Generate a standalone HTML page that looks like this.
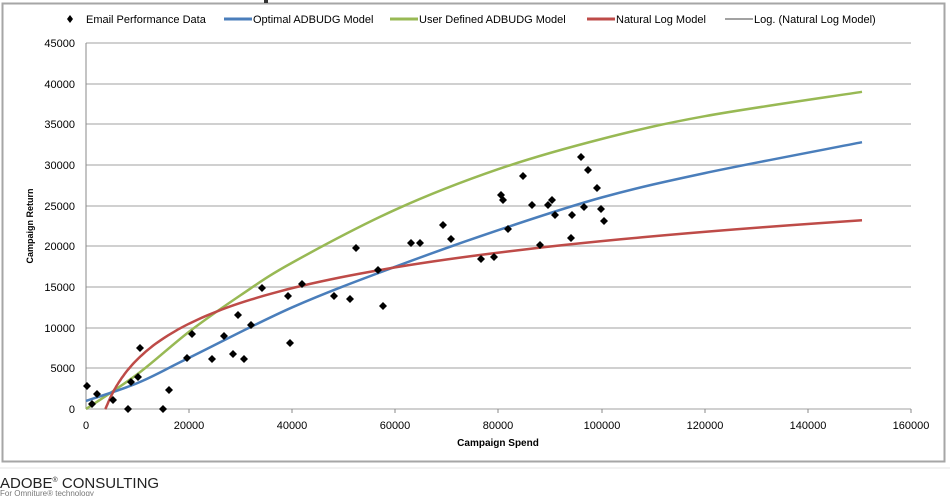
<!DOCTYPE html>
<html><head><style>
body{margin:0;background:#fff;width:950px;height:496px;overflow:hidden;font-family:"Liberation Sans",sans-serif}
</style></head><body>
<svg width="950" height="496" xmlns="http://www.w3.org/2000/svg" font-family="Liberation Sans, sans-serif">
<rect x="0" y="0" width="950" height="496" fill="#fff"/>
<rect x="2.5" y="3.5" width="942" height="458" fill="#fff" stroke="#a6a6a6" stroke-width="2"/>
<line x1="0" y1="468" x2="950" y2="468" stroke="#e6e6e6"/>
<rect x="264" y="0" width="4" height="3" fill="#333"/>
<g stroke="#c0c0c0" stroke-width="1.5">
<line x1="86" y1="43" x2="911" y2="43"/><line x1="86" y1="84" x2="911" y2="84"/><line x1="86" y1="124" x2="911" y2="124"/><line x1="86" y1="165" x2="911" y2="165"/><line x1="86" y1="206" x2="911" y2="206"/><line x1="86" y1="246" x2="911" y2="246"/><line x1="86" y1="287" x2="911" y2="287"/><line x1="86" y1="328" x2="911" y2="328"/><line x1="86" y1="368" x2="911" y2="368"/><line x1="86" y1="409" x2="911" y2="409"/>
</g>
<line x1="86" y1="43" x2="86" y2="409" stroke="#888"/>
<g stroke="#888"><line x1="189" y1="409" x2="189" y2="413"/><line x1="292" y1="409" x2="292" y2="413"/><line x1="395" y1="409" x2="395" y2="413"/><line x1="498" y1="409" x2="498" y2="413"/><line x1="602" y1="409" x2="602" y2="413"/><line x1="705" y1="409" x2="705" y2="413"/><line x1="808" y1="409" x2="808" y2="413"/><line x1="911" y1="409" x2="911" y2="413"/></g>
<g font-size="11" fill="#000" text-anchor="end">
<text x="75" y="47">45000</text><text x="75" y="88">40000</text><text x="75" y="128">35000</text><text x="75" y="169">30000</text><text x="75" y="210">25000</text><text x="75" y="250">20000</text><text x="75" y="291">15000</text><text x="75" y="332">10000</text><text x="75" y="372">5000</text><text x="75" y="413">0</text>
</g>
<g font-size="11" fill="#000" text-anchor="middle">
<text x="86" y="429">0</text><text x="189" y="429">20000</text><text x="292" y="429">40000</text><text x="395" y="429">60000</text><text x="498" y="429">80000</text><text x="602" y="429">100000</text><text x="705" y="429">120000</text><text x="808" y="429">140000</text><text x="911" y="429">160000</text>
</g>
<text x="498" y="446" font-size="10" font-weight="bold" text-anchor="middle">Campaign Spend</text>
<text transform="translate(33,226) rotate(-90)" font-size="9" font-weight="bold" text-anchor="middle">Campaign Return</text>
<g font-size="11" fill="#000">
<path d="M70 15 L73 19 L70 23 L67 19Z" fill="#000"/>
<text x="86" y="23">Email Performance Data</text>
<line x1="224" y1="19" x2="252" y2="19" stroke="#4a7ebb" stroke-width="3"/><text x="253" y="23">Optimal ADBUDG Model</text>
<line x1="390" y1="19" x2="418" y2="19" stroke="#98b954" stroke-width="3"/><text x="419" y="23">User Defined ADBUDG Model</text>
<line x1="587" y1="19" x2="615" y2="19" stroke="#be4b48" stroke-width="3"/><text x="616" y="23">Natural Log Model</text>
<line x1="725" y1="19" x2="753" y2="19" stroke="#444" stroke-width="1"/><text x="754" y="23">Log. (Natural Log Model)</text>
</g>
<g id="curves" fill="none" stroke-width="2.5"></g>
<g id="pts" fill="#000"></g>
<text x="0" y="488" font-size="15" fill="#222">ADOBE<tspan font-size="7" dy="-6">®</tspan><tspan dy="6"> CONSULTING</tspan></text>
<text x="0" y="496" font-size="8" fill="#777">For Omniture® technology</text>
</svg>
<script>
var X=function(v){return 86+v*825/160000},Y=function(v){return 409-v*366/45000};
function cr(p){var s="M"+X(p[0][0]).toFixed(1)+" "+Y(p[0][1]).toFixed(1);var q=p.map(function(a){return[X(a[0]),Y(a[1])]});
for(var i=0;i<q.length-1;i++){var p0=q[i-1]||q[i],p1=q[i],p2=q[i+1],p3=q[i+2]||q[i+1];
s+=" C"+(p1[0]+(p2[0]-p0[0])/6).toFixed(1)+" "+(p1[1]+(p2[1]-p0[1])/6).toFixed(1)+" "+(p2[0]-(p3[0]-p1[0])/6).toFixed(1)+" "+(p2[1]-(p3[1]-p1[1])/6).toFixed(1)+" "+p2[0].toFixed(1)+" "+p2[1].toFixed(1);}return s;}
var g=document.getElementById("curves"),ns="http://www.w3.org/2000/svg";
function add(d,c){var e=document.createElementNS(ns,"path");e.setAttribute("d",d);e.setAttribute("stroke",c);g.appendChild(e);}
add(cr([[0,0],[10000,4300],[20000,9500],[30000,14000],[40000,18000],[60000,24500],[80000,29500],[100000,33200],[120000,36000],[150500,39000]]),"#98b954");
add(cr([[0,1000],[10000,3200],[20000,6300],[40000,12500],[60000,17500],[80000,22000],[100000,26000],[120000,29000],[150500,32800]]),"#4a7ebb");
var r="";var xs=[];for(var x=3700;x<150500;x*=1.04)xs.push(x);xs.push(150500);
xs.forEach(function(x){var y=6300*Math.log(x)-51900;r+=(r?"L":"M")+X(x).toFixed(1)+" "+Y(Math.max(y,0)).toFixed(1);});
add(r,"#be4b48");
var P=[[87,386],[92,404],[97,394],[113,400],[128,409],[131,382],[138,377],[140,348],[163,409],[169,390],[187,358],[192,334],[212,359],[224,336],[233,354],[238,315],[244,359],[251,325],[262,288],[288,296],[290,343],[302,284],[334,296],[350,299],[356,248],[378,270],[383,306],[411,243],[420,243],[443,225],[451,239],[481,259],[494,257],[501,195],[503,200],[508,229],[523,176],[532,205],[540,245],[548,205],[552,200],[555,215],[571,238],[572,215],[581,157],[584,207],[588,170],[597,188],[601,209],[604,221]];
var pg=document.getElementById("pts");P.forEach(function(a){var e=document.createElementNS(ns,"path");e.setAttribute("d","M"+a[0]+" "+(a[1]-4)+"l4 4l-4 4l-4 -4z");pg.appendChild(e);});
</script>
</body></html>
